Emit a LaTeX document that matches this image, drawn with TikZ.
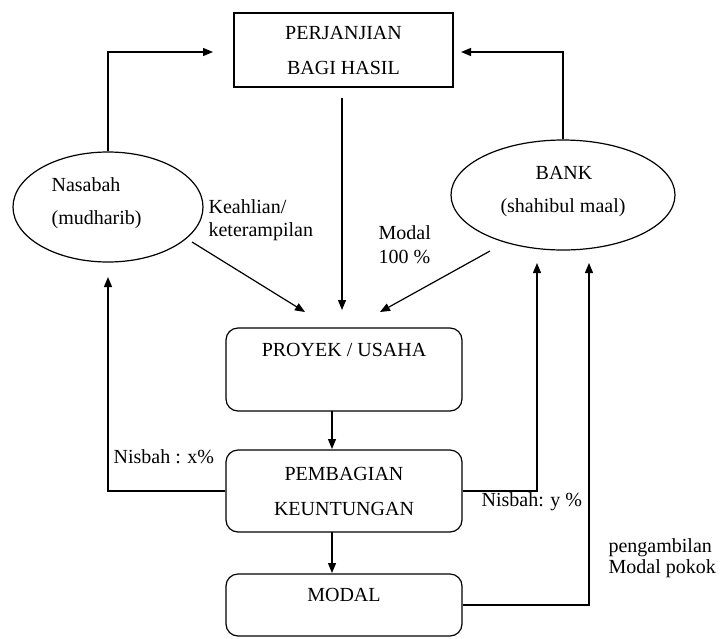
\documentclass[tikz,border=0pt]{standalone}
\usepackage{fontspec}
\setmainfont{Liberation Serif}
\usetikzlibrary{arrows.meta,shapes.geometric}
\begin{document}
\begin{tikzpicture}[x=1pt,y=-1pt, line width=1.2pt,
 conn/.style={-{Triangle[length=10pt,width=8pt]}},
 txt/.style={font=\fontsize{20}{23}\selectfont, inner sep=0pt},
 lbl/.style={txt, anchor=west},
 rbox/.style={draw, rounded corners=12pt, minimum width=236pt, inner sep=0pt},
 twoline/.style={align=center, font=\fontsize{20}{35}\selectfont},
]
\useasboundingbox (0,0) rectangle (725,638);
% main nodes
\node[draw, minimum width=219pt, minimum height=74pt, inner sep=0pt, twoline] (perj) at (343.5,50) {PERJANJIAN\\BAGI HASIL};
\node[draw, ellipse, minimum width=190pt, minimum height=110pt] (nas) at (108,207) {};
\node[lbl] (nas1) at (51,185) {Nasabah};
\node[lbl] (nas2) at (51,220) {(mudharib)};
\node[draw, ellipse, minimum width=224pt, minimum height=110pt] (bank) at (563,195) {};
\node[txt] (bank1) at (564,173) {BANK};
\node[txt] (bank2) at (563,208) {(shahibul maal)};
\node[rbox, minimum height=83pt] (proy) at (344,369.5) {};
\node[txt] (proy1) at (344,350) {PROYEK / USAHA};
\node[rbox, minimum height=82pt, twoline] (pemb) at (344,491) {PEMBAGIAN\\KEUNTUNGAN};
\node[rbox, minimum height=62pt] (modal) at (344,605) {};
\node[txt] (modal1) at (344,595) {MODAL};
% labels
\node[lbl] (k1) at (208,207) {Keahlian/};
\node[lbl] (k2) at (208,232) {keterampilan};
\node[lbl] (m1) at (378,233) {Modal};
\node[lbl] (m2) at (378,257) {100 \%};
\node[lbl] (nx) at (113,457) {Nisbah : x\%};
\node[lbl] (ny) at (481,502) {Nisbah: y \%};
\node[lbl] (p1) at (608,548) {pengambilan};
\node[lbl] (p2) at (608,569) {Modal pokok};
% coordinates
\coordinate (pl) at (213,52);
\coordinate (pr) at (461,52);
\coordinate (c1) at (342,98);
\coordinate (c2) at (342,310);
\coordinate (n0) at (192,242);
\coordinate (n1) at (305,312);
\coordinate (b0) at (490,251);
\coordinate (b1) at (380,312);
\coordinate (e0) at (332,411);
\coordinate (e1) at (332,449);
\coordinate (f0) at (332,532);
\coordinate (f1) at (332,573);
\coordinate (nup) at (108,277);
\coordinate (bup) at (537,263);
\coordinate (mup) at (589,263);
% connectors
\draw[conn] (nas.north) |- (pl);
\draw[conn] (bank.north) |- (pr);
\draw[conn] (c1) -- (c2);
\draw[conn] (n0) -- (n1);
\draw[conn] (b0) -- (b1);
\draw[conn] (e0) -- (e1);
\draw[conn] (f0) -- (f1);
\draw[conn] (pemb.west) -| (nup);
\draw[conn] (pemb.east) -| (bup);
\draw[conn] (modal.east) -| (mup);
\end{tikzpicture}
\end{document}
